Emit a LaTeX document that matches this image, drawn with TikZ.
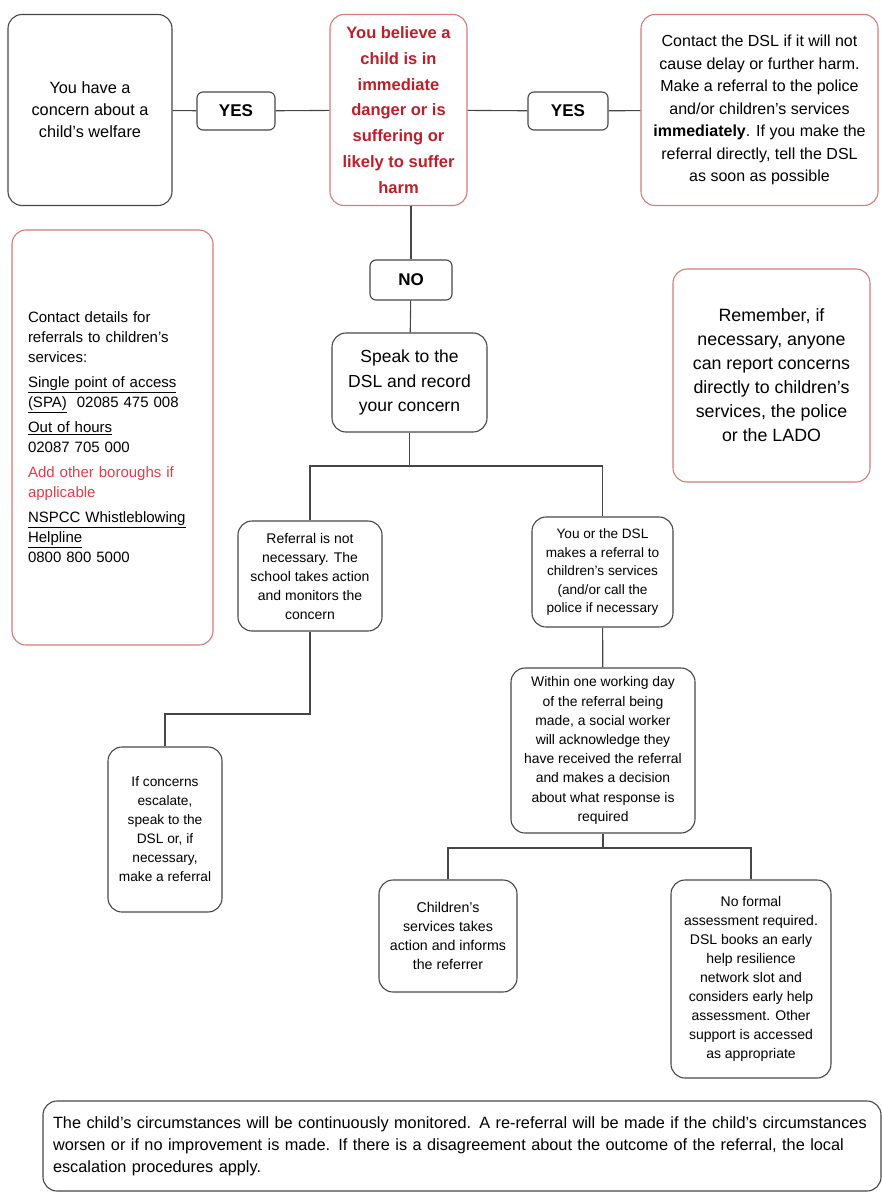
\documentclass[tikz,border=0pt]{standalone}
\usepackage{xcolor}
\usepackage{fontspec}
\setmainfont{Liberation Sans}
\usepackage{tikz}
\usetikzlibrary{positioning,calc}

\definecolor{pinkline}{RGB}{214,122,122}
\definecolor{dangerred}{RGB}{190,30,40}
\definecolor{boroughred}{RGB}{228,60,72}
\definecolor{linegray}{RGB}{70,70,70}

\newcommand{\fs}[2]{\fontsize{#1}{#2}\selectfont}

\begin{document}
\begin{tikzpicture}[x=1pt, y=-1pt,
    box/.style={rectangle, rounded corners=14, draw=linegray, line width=1.1pt, align=center, inner sep=0pt},
    redbox/.style={box, draw=pinkline},
    yesno/.style={box, rounded corners=6, minimum width=80, minimum height=38, font=\fs{17}{19}\bfseries},
    line/.style={draw=linegray, line width=1.1pt}]

    \useasboundingbox (0,0) rectangle (881,1193);

    % Top row
    \node[box, minimum width=164, minimum height=191, font=\fs{16.3}{22}] (concern) at (90,110)
        {You have a\\concern about a\\child's welfare};
    \node[yesno, minimum width=78] (yes1) at (236,111) {YES};
    \node[redbox, minimum width=137, minimum height=191, text=dangerred, font=\fs{16.5}{25.8}\bfseries] (danger) at (398.5,110)
        {You believe a\\child is in\\immediate\\danger or is\\suffering or\\likely to suffer\\harm};
    \node[yesno] (yes2) at (568,111) {YES};
    \node[redbox, minimum width=237, minimum height=191, font=\fs{16}{22.5}] (contact) at (759.5,110)
        {Contact the DSL if it will not\\cause delay or further harm.\\Make a referral to the police\\and/or children's services\\\textbf{immediately}. If you make the\\referral directly, tell the DSL\\as soon as possible};

    % Side notes
    \node[redbox, minimum height=415, text width=169, inner xsep=16, align=left, font=\fs{15}{20}] (details) at (112.5,437.5)
        {Contact details for\\referrals to children's\\services:\\[5pt]
         \underline{Single point of access}\\\underline{(SPA)}\ \ 02085 475 008\\[5pt]
         \underline{Out of hours}\\02087 705 000\\[5pt]
         \textcolor{boroughred}{Add other boroughs if}\\\textcolor{boroughred}{applicable}\\[5pt]
         \underline{NSPCC Whistleblowing}\\\underline{Helpline}\\0800 800 5000};
    \node[redbox, minimum width=197, minimum height=213, font=\fs{17.8}{24}] (remember) at (771.5,375.5)
        {Remember, if\\necessary, anyone\\can report concerns\\directly to children's\\services, the police\\or the LADO};

    % Middle column
    \node[yesno, minimum width=82, minimum height=40] (no) at (411,280) {NO};
    \node[box, minimum width=155, minimum height=99, font=\fs{17.5}{24.5}] (speak) at (409.5,382.5)
        {Speak to the\\DSL and record\\your concern};
    \node[box, minimum width=144, minimum height=110, font=\fs{14}{19}] (notneeded) at (310,576)
        {Referral is not\\necessary. The\\school takes action\\and monitors the\\concern};
    \node[box, minimum width=141, minimum height=110, font=\fs{13.6}{18.5}] (referral) at (602.5,572)
        {You or the DSL\\makes a referral to\\children's services\\(and/or call the\\police if necessary};
    \node[box, minimum width=114, minimum height=165, font=\fs{13.7}{19}] (escalate) at (165,829.5)
        {If concerns\\escalate,\\speak to the\\DSL or, if\\necessary,\\make a referral};
    \node[box, minimum width=184, minimum height=165, font=\fs{13.9}{19.2}] (withinday) at (603,750.5)
        {Within one working day\\of the referral being\\made, a social worker\\will acknowledge they\\have received the referral\\and makes a decision\\about what response is\\required};
    \node[box, minimum width=138, minimum height=112, font=\fs{14.2}{19}] (csaction) at (448,936)
        {Children's\\services takes\\action and informs\\the referrer};
    \node[box, minimum width=160, minimum height=198, font=\fs{14}{19}] (noformal) at (751,979)
        {No formal\\assessment required.\\DSL books an early\\help resilience\\network slot and\\considers early help\\assessment. Other\\support is accessed\\as appropriate};

    % Bottom note
    \node[box, text width=818, inner xsep=10, minimum height=90, align=left, font=\fs{16.3}{22}] (monitored) at (462,1146)
        {The child's circumstances will be continuously monitored. A re-referral will be made if the child's circumstances\\worsen or if no improvement is made. If there is a disagreement about the outcome of the referral, the local\\escalation procedures apply.};

    % Connectors
    \coordinate (split) at (409.5,466);
    \coordinate (elbow) at (0,714);
    \coordinate (split2) at (603,848);
    \draw[line] (concern) -- (yes1) -- (danger) -- (yes2) -- (contact);
    \draw[line] (no) -- (no |- danger.south);
    \draw[line] (no) -- (speak);
    \draw[line] (speak) -- (split);
    \draw[line] (notneeded.north) |- (split) -| (referral.north);
    \draw[line] (notneeded.south) |- (escalate.north |- elbow) -- (escalate.north);
    \draw[line] (referral) -- (withinday);
    \draw[line] (withinday) -- (split2);
    \draw[line] (csaction.north) |- (split2) -| (noformal.north);

\end{tikzpicture}
\end{document}
